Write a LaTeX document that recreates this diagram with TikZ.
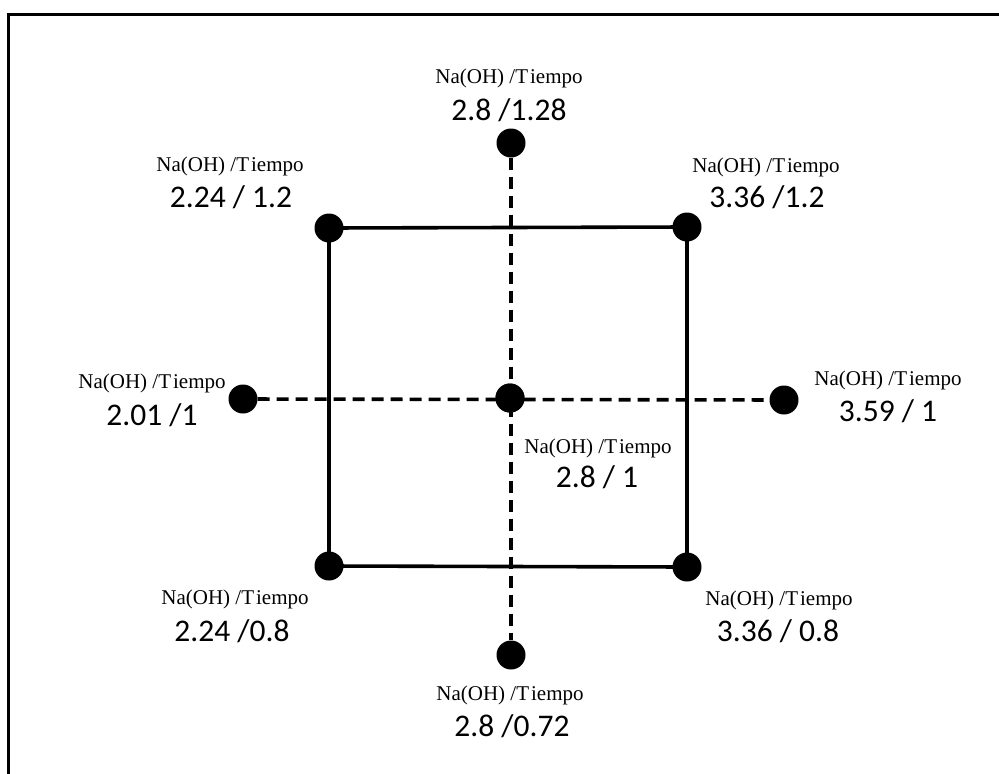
\documentclass[tikz,border=0pt]{standalone}
\usepackage{fontspec}
\newfontfamily\tnrfont{Liberation Serif}
\newfontfamily\calibfont{Carlito}
\begin{document}
\begin{tikzpicture}[x=1pt,y=-1pt,
  dot/.style={circle,fill=black,draw=none,minimum size=29pt,inner sep=0pt},
  solidline/.style={line width=3.6pt},
  dashline/.style={line width=3.6pt,dash pattern=on 12pt off 7pt},
  lab/.style={anchor=base,inner sep=0pt,font=\tnrfont\fontsize{21}{21}\selectfont},
  num/.style={anchor=base,inner sep=0pt,font=\calibfont\fontsize{31.5}{31.5}\selectfont}]
\useasboundingbox (0,0) rectangle (999,774);
% frame (top and left only)
\coordinate (f1) at (8.5,774);
\coordinate (f2) at (8.5,14.5);
\coordinate (f3) at (999,14.5);
\draw[line width=3.6pt] (f1) -- (f2) -- (f3);
% dots
\node[dot] (c)  at (510,398) {};
\node[dot] (tl) at (329,228) {};
\node[dot] (tr) at (687,227) {};
\node[dot] (bl) at (329,566) {};
\node[dot] (br) at (687,567) {};
\node[dot] (t)  at (511,143) {};
\node[dot] (b)  at (511,655) {};
\node[dot] (l)  at (243,399) {};
\node[dot] (r)  at (784,400) {};
% square
\draw[solidline] (tl.center) -- (tr.center) -- (br.center) -- (bl.center) -- cycle;
% axes
\draw[dashline] (l) -- (r);
\draw[dashline] (t) -- (b);
\node[dot] (c2) at (c) {};
% labels
\node[lab] (tA) at (509,83) {Na(OH) /T\kern2pt iempo};
\node[num] (tB) at (509,120) {2.8 /1.28};
\node[lab] (tlA) at (230,171) {Na(OH) /T\kern2pt iempo};
\node[num] (tlB) at (231,207) {2.24 / 1.2};
\node[lab] (trA) at (766,172) {Na(OH) /T\kern2pt iempo};
\node[num] (trB) at (767,207) {3.36 /1.2};
\node[lab] (lA) at (152,388) {Na(OH) /T\kern2pt iempo};
\node[num] (lB) at (152,425) {2.01 /1};
\node[lab] (rA) at (888,385) {Na(OH) /T\kern2pt iempo};
\node[num] (rB) at (888,421) {3.59 / 1};
\node[lab] (cA) at (598,453) {Na(OH) /T\kern2pt iempo};
\node[num] (cB) at (597,487) {2.8 / 1};
\node[lab] (blA) at (235,604) {Na(OH) /T\kern2pt iempo};
\node[num] (blB) at (232,641) {2.24 /0.8};
\node[lab] (brA) at (779,605) {Na(OH) /T\kern2pt iempo};
\node[num] (brB) at (778,641) {3.36 / 0.8};
\node[lab] (bA) at (510,700) {Na(OH) /T\kern2pt iempo};
\node[num] (bB) at (512,736) {2.8 /0.72};
\end{tikzpicture}
\end{document}
